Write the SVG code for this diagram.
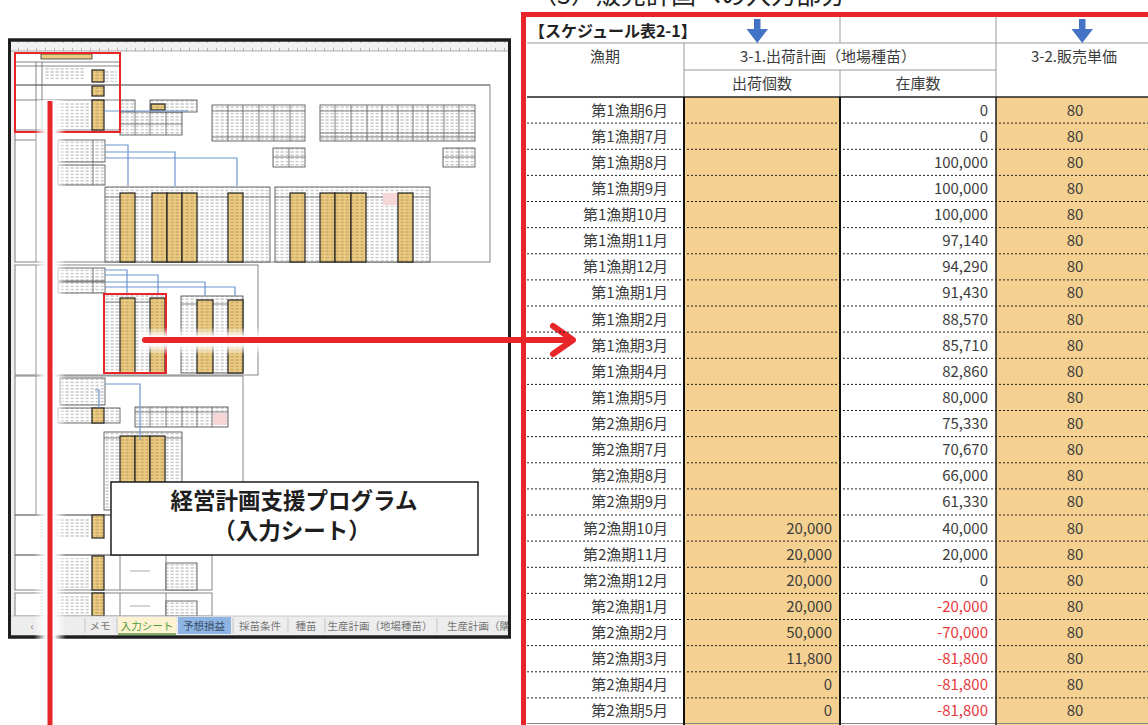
<svg xmlns="http://www.w3.org/2000/svg" width="1148" height="725" viewBox="0 0 1148 725">
<style>
text{font-family:"Noto Sans CJK JP","Noto Sans",sans-serif;}
.t{font-size:15px;fill:#3c3c3c;}
.l{text-anchor:end;}
.m{text-anchor:middle;}
.r{fill:#E8383D;}
.hb{font-size:16px;font-weight:700;fill:#222;}
.lab{font-size:22.5px;font-weight:700;fill:#1e1e1e;text-anchor:middle;}
.tab{font-size:10.5px;fill:#777;text-anchor:middle;}
.g{fill:none;stroke:#666;stroke-width:0.8;}
.tb{fill:url(#tx);stroke:#444;stroke-width:0.8;}
.or{fill:url(#txo);stroke:#222;stroke-width:1.2;}
.bl{fill:none;stroke:#6D95D0;stroke-width:1.2;}
.hl{fill:none;stroke:#E8262A;stroke-width:2;}
.dot{fill:none;stroke:#222;stroke-width:1;stroke-dasharray:2 2;}
</style>
<defs>
<pattern id="tx" patternUnits="userSpaceOnUse" width="5" height="3.2">
<rect width="5" height="3.2" fill="#fff"/>
<path d="M0.5 1.6h3.2" stroke="#b0b0b0" stroke-width="1"/>
</pattern>
<pattern id="txo" patternUnits="userSpaceOnUse" width="5" height="3.2">
<rect width="5" height="3.2" fill="#EBCB82"/>
<path d="M0.5 1.6h3.2" stroke="#B99A55" stroke-width="1"/>
</pattern>
<pattern id="tick" patternUnits="userSpaceOnUse" width="9" height="9">
<rect width="9" height="9" fill="#F2F2F2"/>
<path d="M0.5 3v4" stroke="#aaa" stroke-width="0.8"/>
</pattern>
<linearGradient id="fadeH" x1="0" y1="0" x2="1" y2="0">
<stop offset="0" stop-color="#fff" stop-opacity="0"/>
<stop offset="0.35" stop-color="#fff" stop-opacity="0.95"/>
<stop offset="0.65" stop-color="#fff" stop-opacity="0.95"/>
<stop offset="1" stop-color="#fff" stop-opacity="0"/>
</linearGradient>
<linearGradient id="fadeV" x1="0" y1="0" x2="0" y2="1">
<stop offset="0" stop-color="#fff" stop-opacity="0"/>
<stop offset="0.35" stop-color="#fff" stop-opacity="0.95"/>
<stop offset="0.65" stop-color="#fff" stop-opacity="0.95"/>
<stop offset="1" stop-color="#fff" stop-opacity="0"/>
</linearGradient>
</defs>
<rect width="1148" height="725" fill="#fff"/>

<!-- cut-off title -->
<text x="532" y="4" style="font-size:25px;fill:#222;">（3）販売計画への入力部分</text>

<!-- ===== Left: spreadsheet thumbnail ===== -->
<g id="thumbnail">
<rect x="9.5" y="40" width="500" height="597" fill="#fff" stroke="#1e1e1e" stroke-width="3"/>
<rect x="11" y="42" width="497" height="9" fill="url(#tick)"/>
<rect x="11" y="51" width="4.5" height="565" fill="#EFEFEF"/>
<path d="M11 51H508" stroke="#999" stroke-width="0.8"/>

<!-- top header block -->
<rect x="41" y="54" width="51" height="5" fill="#EBCB82" stroke="#333" stroke-width="0.8"/>
<path class="g" d="M15 62H120M15 66H120M15 85H490M15 130H120M36 62V130M42 62V130M15 100H120"/>
<rect x="44" y="68" width="40" height="12" fill="url(#tx)"/>
<rect x="44" y="102" width="46" height="26" fill="url(#tx)"/>
<rect x="92" y="70" width="12" height="12" class="or"/>
<rect x="92" y="86" width="12" height="10" class="or"/>
<rect x="92" y="100" width="12" height="30" class="or"/>
<rect x="105" y="70" width="12" height="12" fill="url(#tx)"/>

<!-- section A -->
<rect x="15" y="85" width="475" height="177" class="g"/>
<path class="g" d="M36 130V262M15 140H36"/>
<rect x="120" y="100" width="15" height="12" class="tb"/>
<rect x="120" y="112" width="62" height="23" class="tb"/>
<path class="g" d="M135 112V135M150 112V135M166 112V135M120 124H182"/>
<rect x="150" y="100" width="47" height="12" class="tb"/>
<rect x="151" y="104" width="14" height="6" class="or"/>
<rect x="212" y="105" width="93" height="36" class="tb"/>
<path class="g" d="M212 111H305M228 105V141M243 105V141M259 105V141M274 105V141M290 105V141M212 137H305"/>
<rect x="320" y="105" width="155" height="36" class="tb"/>
<path class="g" d="M320 111H475M335 105V141M351 105V141M367 105V141M382 105V141M398 105V141M413 105V141M428 105V141M444 105V141M459 105V141M320 133H475M320 137H475"/>
<rect x="273" y="148" width="32" height="19" class="tb"/>
<path class="g" d="M289 148V167M273 157H305"/>
<rect x="443" y="148" width="32" height="19" class="tb"/>
<path class="g" d="M459 148V167M443 157H475"/>
<rect x="58" y="140" width="47" height="22" class="tb"/>
<rect x="58" y="165" width="47" height="20" class="tb"/>
<path class="g" d="M93 140V185"/>
<!-- big tables -->
<rect x="105" y="187" width="165" height="75" class="tb"/>
<path class="g" d="M105 197H270"/>
<rect x="120" y="193" width="15" height="69" class="or"/>
<rect x="152" y="193" width="15" height="69" class="or"/>
<rect x="167" y="193" width="15" height="69" class="or"/>
<rect x="182" y="193" width="15" height="69" class="or"/>
<rect x="228" y="193" width="15" height="69" class="or"/>
<rect x="275" y="187" width="155" height="75" class="tb"/>
<path class="g" d="M275 197H430"/>
<rect x="290" y="193" width="15" height="69" class="or"/>
<rect x="320" y="193" width="15" height="69" class="or"/>
<rect x="335" y="193" width="16" height="69" class="or"/>
<rect x="351" y="193" width="15" height="69" class="or"/>
<rect x="383" y="193" width="15" height="12" fill="#F6D6D6"/>
<rect x="398" y="193" width="15" height="69" class="or"/>

<!-- section B -->
<rect x="15" y="265" width="243" height="110" class="g"/>
<path class="g" d="M36 265V375"/>
<rect x="58" y="268" width="47" height="13" class="tb"/>
<rect x="58" y="282" width="47" height="11" class="tb"/>
<path class="g" d="M93 268V293"/>
<rect x="104" y="294" width="62" height="79" class="tb"/>
<path class="g" d="M104 302H166"/>
<rect x="120" y="298" width="15" height="75" class="or"/>
<rect x="150" y="298" width="15" height="75" class="or"/>
<rect x="181" y="296" width="62" height="77" class="tb"/>
<path class="g" d="M181 304H243"/>
<rect x="197" y="300" width="16" height="73" class="or"/>
<rect x="228" y="300" width="15" height="73" class="or"/>

<!-- section C -->
<rect x="15" y="376" width="228" height="139" class="g"/>
<path class="g" d="M36 376V515"/>
<rect x="60" y="378" width="45" height="27" class="tb"/>
<rect x="58" y="408" width="62" height="15" class="tb"/>
<rect x="92" y="408" width="12" height="15" class="or"/>
<rect x="135" y="407" width="93" height="20" class="tb"/>
<path class="g" d="M150 407V427M166 407V427M182 407V427M197 407V427M212 407V427M135 412H228"/>
<rect x="213" y="413" width="14" height="12" fill="#F6D6D6"/>
<rect x="104" y="432" width="78" height="78" class="tb"/>
<path class="g" d="M104 438H182"/>
<rect x="120" y="436" width="15" height="74" class="or"/>
<rect x="135" y="436" width="15" height="74" class="or"/>
<rect x="150" y="436" width="15" height="74" class="or"/>

<!-- section D -->
<rect x="15" y="515" width="105" height="40" class="g"/>
<rect x="40" y="518" width="50" height="20" fill="url(#tx)"/>
<rect x="92" y="515" width="12" height="23" class="or"/>
<rect x="15" y="555" width="197" height="35" class="g"/>
<rect x="40" y="558" width="50" height="30" fill="url(#tx)"/>
<rect x="92" y="556" width="12" height="34" class="or"/>
<path class="g" d="M120 556V590M166 556V590"/>
<path d="M130 571h20" stroke="#aaa" stroke-width="1"/>
<rect x="166" y="563" width="31" height="27" class="tb"/>
<rect x="15" y="593" width="197" height="23" class="g"/>
<rect x="40" y="596" width="50" height="18" fill="url(#tx)"/>
<rect x="92" y="593" width="12" height="23" class="or"/>
<path class="g" d="M120 593V616M166 593V616"/>
<path d="M130 606h20" stroke="#aaa" stroke-width="1"/>
<rect x="166" y="601" width="31" height="15" class="tb"/>

<!-- blue connectors -->
<path class="bl" d="M105 111H188M105 145H128V186M105 152H175V186M105 158H237V186"/>
<path class="bl" d="M105 270H127V294M105 275H158V294M105 282H205V296M105 287H235V296"/>
<path class="bl" d="M95 390H99V408M105 384H140V440"/>

<!-- tab bar -->
<rect x="11" y="616" width="497" height="19" fill="#EDEDED"/>
<path d="M11 616H508" stroke="#bbb" stroke-width="0.8"/>
<rect x="118" y="617" width="58" height="17" fill="#FDF3D2"/>
<path d="M118 634H176" stroke="#5A9A3A" stroke-width="1.5"/>
<rect x="178" y="617" width="53" height="17" fill="#8DB4E2"/>
<path d="M85 618V633M117 618V633M233 618V633M288 618V633M325 618V633M437 618V633" stroke="#bbb" stroke-width="0.8"/>
<text x="32" y="630" class="tab">‹</text>
<text x="100" y="630" class="tab">メモ</text>
<text x="147" y="630" class="tab" style="fill:#4E9A3A;">入力シート</text>
<text x="204" y="630" class="tab" style="fill:#3A4E6A;">予想損益</text>
<text x="260" y="630" class="tab">採苗条件</text>
<text x="306" y="630" class="tab">種苗</text>
<text x="380" y="630" class="tab">生産計画（地場種苗）</text>
<text x="447" y="630" class="tab" style="text-anchor:start;">生産計画（購</text>
<rect x="9.5" y="40" width="500" height="597" fill="none" stroke="#1e1e1e" stroke-width="3"/>

<!-- highlight boxes -->
<rect x="15" y="53" width="105" height="79" class="hl"/>
<rect x="104" y="294" width="62" height="79" class="hl"/>

<!-- fade bands -->
<rect x="34" y="100" width="32" height="560" fill="url(#fadeH)"/>
<rect x="140" y="327" width="130" height="28" fill="url(#fadeV)"/>
</g>

<!-- label box -->
<g id="label">
<rect x="111" y="482" width="367" height="73" fill="#fff" stroke="#1e1e1e" stroke-width="1.5"/>
<text x="294" y="509" class="lab">経営計画支援プログラム</text>
<text x="292" y="539" class="lab">（入力シート）</text>
</g>

<!-- connectors -->
<g id="connectors" stroke="#E8262A" fill="none" stroke-linecap="round" stroke-linejoin="round">
<path d="M50 101V725" stroke-width="5" stroke-linecap="butt"/>
<path d="M145 340H572" stroke-width="6"/>
<path d="M553 326L573 340L553 354" stroke-width="6"/>
</g>

<!-- ===== Right: schedule table ===== -->
<g id="schedule-table">
<rect x="684" y="97" width="156" height="628" fill="#F4D190"/>
<rect x="996" y="97" width="152" height="628" fill="#F4D190"/>
<!-- header -->
<text x="529" y="37" class="hb">【スケジュール表2-1】</text>
<path d="M527 43H1148M840 17V43M996 17V43" stroke="#999" stroke-width="1" fill="none"/>
<path d="M684 43V97M996 43V97M684 70H996M840 70V97" stroke="#999" stroke-width="1" fill="none"/>
<path d="M527 97H1148" stroke="#222" stroke-width="1.5"/>
<text x="605" y="62" class="t m">漁期</text>
<text x="828" y="62" class="t m">3-1.出荷計画（地場種苗）</text>
<text x="1074" y="62" class="t m">3-2.販売単価</text>
<text x="762" y="89" class="t m">出荷個数</text>
<text x="918" y="89" class="t m">在庫数</text>
<!-- blue arrows -->
<path d="M754 19h6.5v10h7.5l-10.75 14l-10.75-14h7.5z" fill="#4472C4"/>
<path d="M1079 19h6.5v10h7.5l-10.75 14l-10.75-14h7.5z" fill="#4472C4"/>
<!-- dotted row lines -->
<path class="dot" d="M527 123.1H1148M527 149.3H1148M527 175.4H1148M527 201.5H1148M527 227.6H1148M527 253.8H1148M527 279.9H1148M527 306H1148M527 332.1H1148M527 358.3H1148M527 384.4H1148M527 410.5H1148M527 436.6H1148M527 462.8H1148M527 488.9H1148M527 515H1148M527 541.1H1148M527 567.3H1148M527 593.4H1148M527 619.5H1148M527 645.6H1148M527 671.8H1148M527 697.9H1148"/>
<path d="M527 723.5H1148" stroke="#888" stroke-width="1"/>
<path d="M684 97V725M840 97V725" stroke="#111" stroke-width="2"/>
<path d="M996 97V725" stroke="#222" stroke-width="1.5"/>

<g transform="translate(0,97)"><text x="668" y="18.5" class="t l">第1漁期6月</text><text x="988" y="18.5" class="t l">0</text><text x="1075" y="18.5" class="t m">80</text></g>
<g transform="translate(0,123.1)"><text x="668" y="18.5" class="t l">第1漁期7月</text><text x="988" y="18.5" class="t l">0</text><text x="1075" y="18.5" class="t m">80</text></g>
<g transform="translate(0,149.3)"><text x="668" y="18.5" class="t l">第1漁期8月</text><text x="988" y="18.5" class="t l">100,000</text><text x="1075" y="18.5" class="t m">80</text></g>
<g transform="translate(0,175.4)"><text x="668" y="18.5" class="t l">第1漁期9月</text><text x="988" y="18.5" class="t l">100,000</text><text x="1075" y="18.5" class="t m">80</text></g>
<g transform="translate(0,201.5)"><text x="668" y="18.5" class="t l">第1漁期10月</text><text x="988" y="18.5" class="t l">100,000</text><text x="1075" y="18.5" class="t m">80</text></g>
<g transform="translate(0,227.6)"><text x="668" y="18.5" class="t l">第1漁期11月</text><text x="988" y="18.5" class="t l">97,140</text><text x="1075" y="18.5" class="t m">80</text></g>
<g transform="translate(0,253.8)"><text x="668" y="18.5" class="t l">第1漁期12月</text><text x="988" y="18.5" class="t l">94,290</text><text x="1075" y="18.5" class="t m">80</text></g>
<g transform="translate(0,279.9)"><text x="668" y="18.5" class="t l">第1漁期1月</text><text x="988" y="18.5" class="t l">91,430</text><text x="1075" y="18.5" class="t m">80</text></g>
<g transform="translate(0,306)"><text x="668" y="18.5" class="t l">第1漁期2月</text><text x="988" y="18.5" class="t l">88,570</text><text x="1075" y="18.5" class="t m">80</text></g>
<g transform="translate(0,332.1)"><text x="668" y="18.5" class="t l">第1漁期3月</text><text x="988" y="18.5" class="t l">85,710</text><text x="1075" y="18.5" class="t m">80</text></g>
<g transform="translate(0,358.3)"><text x="668" y="18.5" class="t l">第1漁期4月</text><text x="988" y="18.5" class="t l">82,860</text><text x="1075" y="18.5" class="t m">80</text></g>
<g transform="translate(0,384.4)"><text x="668" y="18.5" class="t l">第1漁期5月</text><text x="988" y="18.5" class="t l">80,000</text><text x="1075" y="18.5" class="t m">80</text></g>
<g transform="translate(0,410.5)"><text x="668" y="18.5" class="t l">第2漁期6月</text><text x="988" y="18.5" class="t l">75,330</text><text x="1075" y="18.5" class="t m">80</text></g>
<g transform="translate(0,436.6)"><text x="668" y="18.5" class="t l">第2漁期7月</text><text x="988" y="18.5" class="t l">70,670</text><text x="1075" y="18.5" class="t m">80</text></g>
<g transform="translate(0,462.8)"><text x="668" y="18.5" class="t l">第2漁期8月</text><text x="988" y="18.5" class="t l">66,000</text><text x="1075" y="18.5" class="t m">80</text></g>
<g transform="translate(0,488.9)"><text x="668" y="18.5" class="t l">第2漁期9月</text><text x="988" y="18.5" class="t l">61,330</text><text x="1075" y="18.5" class="t m">80</text></g>
<g transform="translate(0,515)"><text x="668" y="18.5" class="t l">第2漁期10月</text><text x="832" y="18.5" class="t l">20,000</text><text x="988" y="18.5" class="t l">40,000</text><text x="1075" y="18.5" class="t m">80</text></g>
<g transform="translate(0,541.1)"><text x="668" y="18.5" class="t l">第2漁期11月</text><text x="832" y="18.5" class="t l">20,000</text><text x="988" y="18.5" class="t l">20,000</text><text x="1075" y="18.5" class="t m">80</text></g>
<g transform="translate(0,567.3)"><text x="668" y="18.5" class="t l">第2漁期12月</text><text x="832" y="18.5" class="t l">20,000</text><text x="988" y="18.5" class="t l">0</text><text x="1075" y="18.5" class="t m">80</text></g>
<g transform="translate(0,593.4)"><text x="668" y="18.5" class="t l">第2漁期1月</text><text x="832" y="18.5" class="t l">20,000</text><text x="988" y="18.5" class="t l r">-20,000</text><text x="1075" y="18.5" class="t m">80</text></g>
<g transform="translate(0,619.5)"><text x="668" y="18.5" class="t l">第2漁期2月</text><text x="832" y="18.5" class="t l">50,000</text><text x="988" y="18.5" class="t l r">-70,000</text><text x="1075" y="18.5" class="t m">80</text></g>
<g transform="translate(0,645.6)"><text x="668" y="18.5" class="t l">第2漁期3月</text><text x="832" y="18.5" class="t l">11,800</text><text x="988" y="18.5" class="t l r">-81,800</text><text x="1075" y="18.5" class="t m">80</text></g>
<g transform="translate(0,671.8)"><text x="668" y="18.5" class="t l">第2漁期4月</text><text x="832" y="18.5" class="t l">0</text><text x="988" y="18.5" class="t l r">-81,800</text><text x="1075" y="18.5" class="t m">80</text></g>
<g transform="translate(0,697.9)"><text x="668" y="18.5" class="t l">第2漁期5月</text><text x="832" y="18.5" class="t l">0</text><text x="988" y="18.5" class="t l r">-81,800</text><text x="1075" y="18.5" class="t m">80</text></g>
</g>
<rect x="523.5" y="14.5" width="700" height="800" fill="none" stroke="#E8262A" stroke-width="5"/>
</svg>
